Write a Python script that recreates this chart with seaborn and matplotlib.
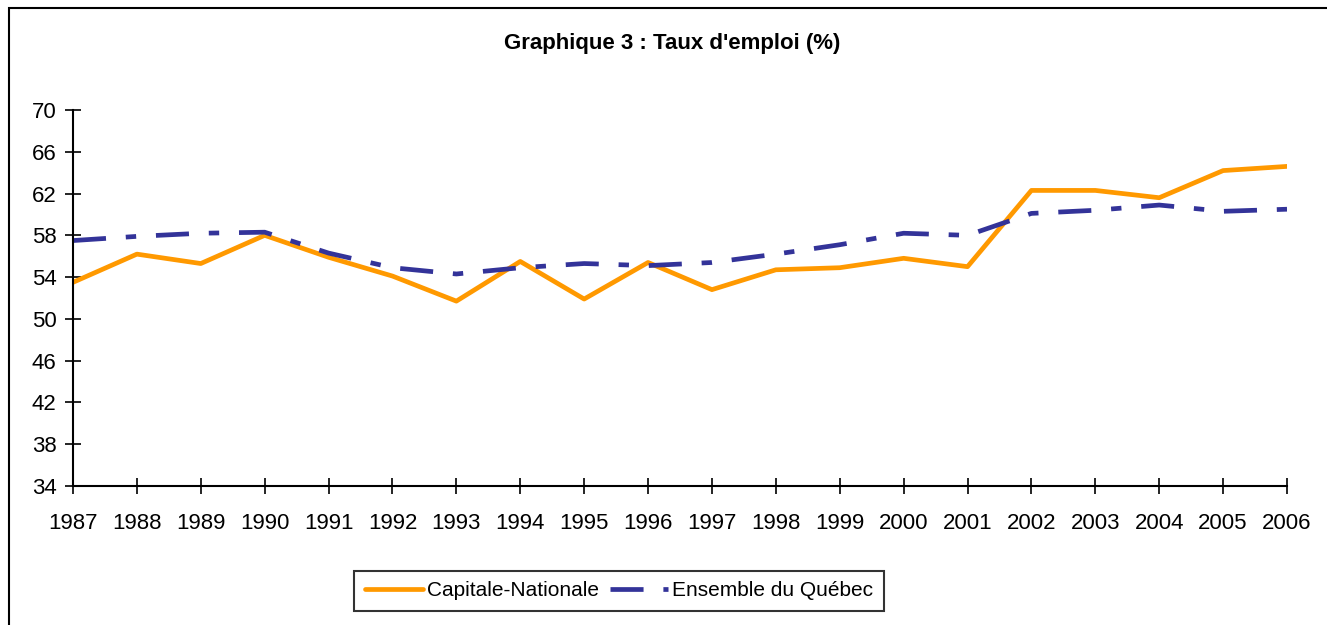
#employment rate chart: Capitale-Nationale vs Ensemble du Quebec
import pandas as pd
import seaborn as sns
import matplotlib.pyplot as plt
from matplotlib.patches import Rectangle

years = list(range(1987, 2007))
capitale = [53.5, 56.2, 55.3, 58.0, 55.9, 54.1, 51.7, 55.5, 51.9, 55.4,
            52.8, 54.7, 54.9, 55.8, 55.0, 62.3, 62.3, 61.6, 64.2, 64.6]
quebec = [57.5, 57.9, 58.2, 58.3, 56.3, 54.9, 54.3, 54.9, 55.3, 55.1,
          55.4, 56.2, 57.1, 58.2, 58.0, 60.1, 60.4, 60.9, 60.3, 60.5]
yticks = list(range(34, 71, 4))

df = pd.DataFrame({'Annee': years, 'Capitale-Nationale': capitale, 'Ensemble du Québec': quebec})

sns.set_style('white')
plt.rcParams['font.family'] = ['Liberation Sans', 'DejaVu Sans']
plt.rcParams['text.color'] = 'black'

fig = plt.figure(figsize=(13.27, 6.25), dpi=100)
ax = fig.add_axes([73/1327, 1-486/625, (1287-73)/1327, (486-110)/625])

sns.lineplot(data=df, x='Annee', y='Capitale-Nationale', color='#FF9900', lw=3.4,
             label='Capitale-Nationale', ax=ax)
sns.lineplot(data=df, x='Annee', y='Ensemble du Québec', color='#333399', lw=3.4,
             dashes=False, label='Ensemble du Québec', ax=ax)
ax.lines[1].set_dashes([7.0, 4.2, 2.2, 4.2])

ax.set_xlim(1987, 2006)
ax.set_ylim(34, 70)
ax.set_xticks(years)
ax.set_yticks(yticks)
ax.set_xlabel('')
ax.set_ylabel('')
for s in ['top', 'right']:
    ax.spines[s].set_visible(False)
for s in ['left', 'bottom']:
    ax.spines[s].set_color('black')
    ax.spines[s].set_linewidth(1.5)
ax.tick_params(axis='both', bottom=True, left=True, direction='inout', length=11.5, width=1.2,
               color='black', labelcolor='black', labelsize=16)
ax.tick_params(axis='y', pad=6)
ax.tick_params(axis='x', pad=14)

fig.text(672/1327, 1-44/625, "Graphique 3 : Taux d'emploi (%)", ha='center', va='center',
         fontsize=16, fontweight='bold', color='black')

ax.get_legend().remove()
h, l = ax.get_legend_handles_labels()
leg = fig.legend(h, l, loc='center', bbox_to_anchor=(619/1327, 1-591/625), ncol=2,
                 fontsize=15, frameon=True, fancybox=False, edgecolor='black',
                 handlelength=2.8, handletextpad=0.2, columnspacing=0.5,
                 borderpad=0.5, borderaxespad=0)
leg.get_frame().set_linewidth(1.5)
for t in leg.get_texts():
    t.set_color('black')

fig.patches.append(Rectangle((9/1327, -0.1), 1.2, 1-8/625+0.1, transform=fig.transFigure,
                             fill=False, edgecolor='black', lw=1.5))

fig.savefig('out.png', dpi=100)
